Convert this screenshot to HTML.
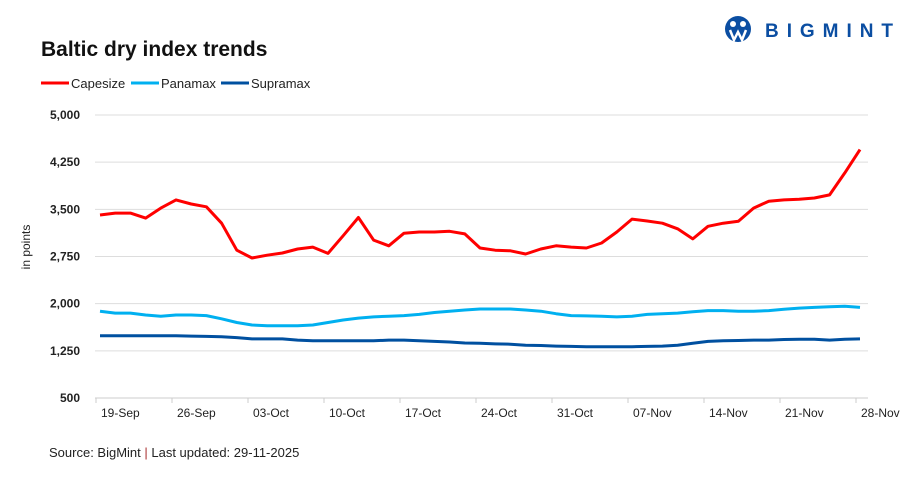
<!DOCTYPE html>
<html><head><meta charset="utf-8"><style>
body{margin:0;background:#fff;font-family:"Liberation Sans",sans-serif;}
svg text{font-family:"Liberation Sans",sans-serif;}
</style></head><body>
<svg id="chart" width="909" height="476" viewBox="0 0 909 476">
<g>
<circle cx="738" cy="29" r="13" fill="#0b4ea2"/>
<circle cx="733" cy="24" r="3" fill="#fff"/><circle cx="743" cy="24" r="3" fill="#fff"/>
<path d="M730 30 L734 40 L738 32 L742 40 L746 30" stroke="#fff" stroke-width="2.5" fill="none"/>
<text x="765" y="37" font-size="19" font-weight="bold" fill="#0b4ea2" textLength="128" lengthAdjust="spacing">BIGMINT</text>
</g>
<text x="41" y="56" font-size="21" font-weight="bold" fill="#111">Baltic dry index trends</text>
<g id="legend"></g>
<text transform="translate(30,247) rotate(-90)" text-anchor="middle" font-size="12" fill="#222">in points</text>
<g id="grid"></g><g id="xaxis"></g><g id="series"></g>
<text x="49" y="457" font-size="13" fill="#222">Source: BigMint <tspan fill="#a33">|</tspan> Last updated: 29-11-2025</text>
</svg>
<script>
const yTicks=[500,1250,2000,2750,3500,4250,5000];
const xLabels=["19-Sep","26-Sep","03-Oct","10-Oct","17-Oct","24-Oct","31-Oct","07-Nov","14-Nov","21-Nov","28-Nov"];
const capesize=[3410,3440,3440,3360,3520,3650,3585,3540,3280,2850,2726,2770,2805,2870,2900,2800,3080,3370,3010,2920,3120,3140,3140,3150,3110,2885,2850,2840,2790,2870,2920,2900,2885,2965,3140,3345,3315,3280,3190,3030,3230,3280,3310,3520,3630,3650,3660,3680,3730,4080,4450];
const panamax=[1880,1850,1850,1820,1800,1820,1820,1810,1760,1700,1660,1650,1650,1650,1660,1700,1740,1770,1790,1800,1810,1830,1860,1880,1900,1915,1915,1915,1900,1880,1840,1810,1805,1800,1790,1800,1830,1840,1850,1870,1890,1890,1880,1880,1890,1910,1930,1940,1950,1960,1940];
const supramax=[1490,1490,1490,1490,1490,1490,1485,1480,1475,1460,1440,1440,1440,1420,1410,1410,1410,1410,1410,1420,1420,1410,1400,1390,1375,1370,1360,1355,1340,1335,1325,1320,1315,1315,1315,1315,1320,1325,1340,1370,1400,1410,1415,1420,1420,1430,1435,1435,1420,1435,1440];
const seriesNames=["Capesize","Panamax","Supramax"];
const seriesColors=["#ff0000","#00b0f0","#0050a0"];
const NS="http://www.w3.org/2000/svg";
const x0=95,x1=868,yTop=115,yBot=398,vMin=500,vMax=5000;
const step=15.2;
function X(i){return 100+i*step;}
function Y(v){return yBot-(v-vMin)/(vMax-vMin)*(yBot-yTop);}
function mk(t,a,p){const e=document.createElementNS(NS,t);for(const k in a)e.setAttribute(k,a[k]);p.appendChild(e);return e;}
const grid=document.getElementById('grid');
yTicks.forEach(v=>{
 const l=mk('line',{x1:x0,x2:x1,y1:Y(v),y2:Y(v),stroke:v===vMin?'#ccc':'#ddd','stroke-width':1},grid);
 
 
 const t=mk('text',{x:80,y:Y(v)+4,'text-anchor':'end','font-size':12,'font-weight':'bold',fill:'#222'},grid);
 t.textContent=v.toLocaleString('en-US');
 
 
});
const xa=document.getElementById('xaxis');
xLabels.forEach((s,k)=>{
 const tx=96+k*5*step;
 const l=mk('line',{x1:tx,x2:tx,y1:yBot,y2:yBot+5,stroke:'#ccc'},xa);
 
 
 const t=mk('text',{x:tx+5,y:417,'font-size':12,fill:'#222'},xa);
 t.textContent=s;
 
 
});
const sg=document.getElementById('series');
[capesize,panamax,supramax].forEach((arr,si)=>{
 const d=arr.map((v,i)=>(i?'L':'M')+X(i).toFixed(1)+' '+Y(v).toFixed(1)).join(' ');
 const p=mk('path',{d:d,fill:'none',stroke:seriesColors[si],'stroke-width':3,'stroke-linejoin':'round'},sg);
 
 
});
const lg=document.getElementById('legend');
const lx=[41,131,221];
seriesNames.forEach((n,i)=>{
 const l=mk('line',{x1:lx[i],x2:lx[i]+28,y1:83,y2:83,stroke:seriesColors[i],'stroke-width':3},lg);
 
 
 const t=mk('text',{x:lx[i]+30,y:88,'font-size':13,fill:'#222'},lg);
 t.textContent=n;
 
 
});
</script>
</body></html>
